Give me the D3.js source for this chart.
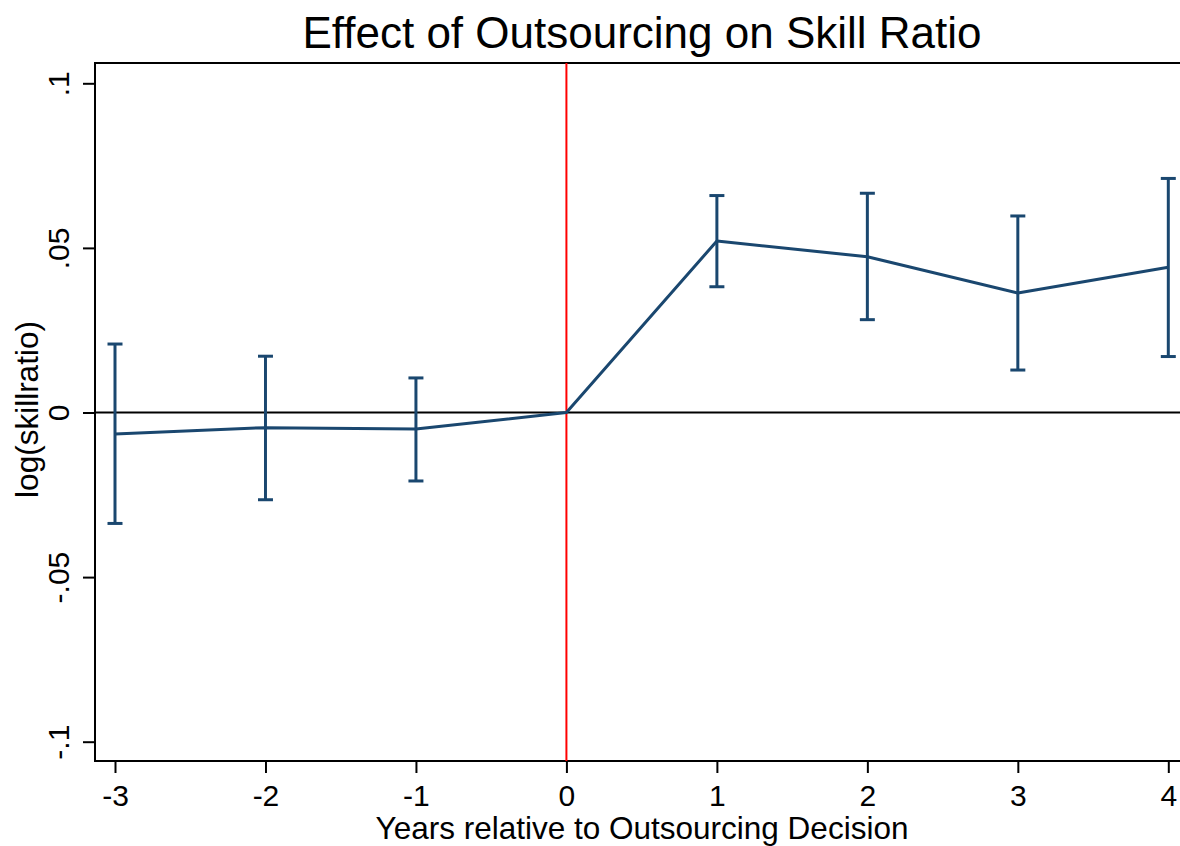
<!DOCTYPE html>
<html>
<head>
<meta charset="utf-8">
<script src="https://cdn.jsdelivr.net/npm/d3@7"></script>
<style>
  html, body { margin: 0; padding: 0; background: #fff; }
  svg { display: block; font-family: "Liberation Sans", Arial, Helvetica, sans-serif; }
</style>
</head>
<body>
<svg id="chart" width="1180" height="846"></svg>
<script>
// Event-study estimates: years relative to outsourcing decision
const years    = [-3, -2, -1, 0, 1, 2, 3, 4];
const estimate = [-0.0065, -0.0046, -0.0050, 0, 0.0521, 0.0473, 0.0363, 0.0441];
const ciLower  = [-0.0337, -0.0265, -0.0208, 0, 0.0382, 0.0282, 0.0129, 0.0170];
const ciUpper  = [0.0208, 0.0171, 0.0105, 0, 0.0659, 0.0666, 0.0597, 0.0711];
const yTicks   = [-0.1, -0.05, 0, 0.05, 0.1];
const yTickLabels = ["-.1", "-.05", "0", ".05", ".1"];
const xTicks   = [-3, -2, -1, 0, 1, 2, 3, 4];

const rows = years.map((yr, i) => ({ yr, est: estimate[i], lo: ciLower[i], hi: ciUpper[i] }));

const svg = d3.select("#chart");
const plot = { left: 95, right: 1181, top: 63, bottom: 761 };

const x = d3.scaleLinear().domain([-3, 4]).range([115, 1168.3]);
const y = d3.scaleLinear().domain([-0.1, 0.1]).range([741.7, 83.3]);

const navy = "#1a476f";

// Plot frame
svg.append("rect")
  .attr("x", plot.left).attr("y", plot.top)
  .attr("width", plot.right - plot.left).attr("height", plot.bottom - plot.top)
  .attr("fill", "none").attr("stroke", "#000").attr("stroke-width", 2);

// Reference lines
svg.append("line")
  .attr("x1", plot.left).attr("x2", plot.right)
  .attr("y1", y(0)).attr("y2", y(0))
  .attr("stroke", "#000").attr("stroke-width", 2.2);

svg.append("line")
  .attr("x1", x(0)).attr("x2", x(0))
  .attr("y1", plot.top).attr("y2", plot.bottom)
  .attr("stroke", "#ff0000").attr("stroke-width", 2);

// Y axis (rotated tick labels)
const yAxis = d3.axisLeft(y)
  .tickValues(yTicks)
  .tickSize(12)
  .tickPadding(0)
  .tickFormat((d, i) => yTickLabels[i]);
const gy = svg.append("g").attr("transform", `translate(${plot.left},0)`).call(yAxis);
gy.select(".domain").remove();
gy.selectAll(".tick line").attr("stroke", "#000").attr("stroke-width", 2);
gy.selectAll(".tick text")
  .attr("font-size", 30)
  .attr("fill", "#000")
  .attr("x", null).attr("dy", null)
  .attr("text-anchor", "middle")
  .attr("transform", "translate(-26,0) rotate(-90)");

// X axis (plain hyphen for negatives)
const xAxis = d3.axisBottom(x)
  .tickValues(xTicks)
  .tickSize(12)
  .tickPadding(5)
  .tickFormat(d => String(d));
const gx = svg.append("g").attr("transform", `translate(0,${plot.bottom})`).call(xAxis);
gx.select(".domain").remove();
gx.selectAll(".tick line").attr("stroke", "#000").attr("stroke-width", 2);
gx.selectAll(".tick text").attr("font-size", 30).attr("fill", "#000").attr("dy", "0.93em");

// Confidence interval bars
const cap = 7.5;
const bars = svg.append("g").attr("stroke", navy).attr("stroke-width", 3).attr("fill", "none");
rows.filter(d => d.hi !== d.lo).forEach(d => {
  bars.append("line").attr("x1", x(d.yr)).attr("x2", x(d.yr)).attr("y1", y(d.lo)).attr("y2", y(d.hi));
  bars.append("line").attr("x1", x(d.yr) - cap).attr("x2", x(d.yr) + cap).attr("y1", y(d.lo)).attr("y2", y(d.lo));
  bars.append("line").attr("x1", x(d.yr) - cap).attr("x2", x(d.yr) + cap).attr("y1", y(d.hi)).attr("y2", y(d.hi));
});

// Point estimate line
svg.append("path")
  .datum(rows)
  .attr("fill", "none")
  .attr("stroke", navy)
  .attr("stroke-width", 3)
  .attr("stroke-linejoin", "round")
  .attr("d", d3.line().x(d => x(d.yr)).y(d => y(d.est)));

// Titles
svg.append("text")
  .attr("x", 642).attr("y", 48)
  .attr("text-anchor", "middle")
  .attr("font-size", 44)
  .text("Effect of Outsourcing on Skill Ratio");

svg.append("text")
  .attr("x", 642).attr("y", 839)
  .attr("text-anchor", "middle")
  .attr("font-size", 31.5)
  .text("Years relative to Outsourcing Decision");

svg.append("text")
  .attr("transform", `translate(38,${y(0) - 3}) rotate(-90)`)
  .attr("text-anchor", "middle")
  .attr("font-size", 31.5)
  .text("log(skillratio)");
</script>
</body>
</html>
